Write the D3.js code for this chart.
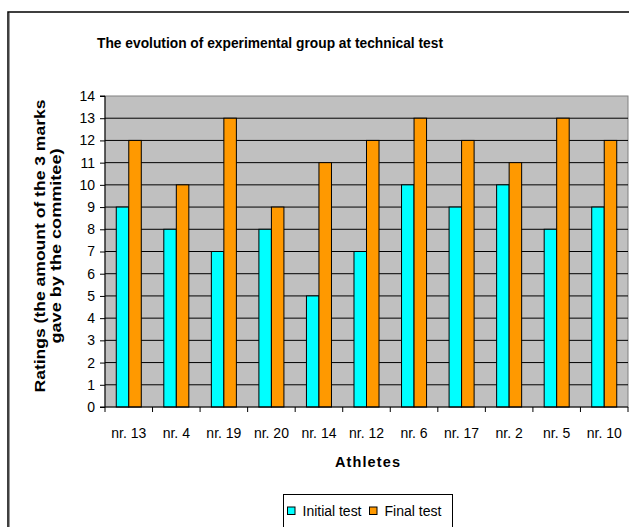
<!DOCTYPE html>
<html><head><meta charset="utf-8">
<script src="https://cdn.jsdelivr.net/npm/d3@7"></script>
<style>body{margin:0;background:#fff}svg{display:block;font-family:"Liberation Sans",Arial,sans-serif}</style>
</head><body>
<script>
const categories = ["nr. 13","nr. 4","nr. 19","nr. 20","nr. 14","nr. 12","nr. 6","nr. 17","nr. 2","nr. 5","nr. 10"];
const initialTest = [9,8,7,8,5,7,10,9,10,8,9];
const finalTest = [12,10,13,9,11,12,13,12,11,13,12];
const seriesNames = ["Initial test","Final test"];
const yTicks = d3.range(0,15);

const W=629,H=527;
const svg=d3.select("body").append("svg").attr("width",W).attr("height",H);
// outer chart border
svg.append("rect").attr("x",8).attr("y",12).attr("width",640).attr("height",540)
  .attr("fill","none").attr("stroke","#000").attr("stroke-width",1.5);
svg.append("line").attr("x1",9.5).attr("x2",9.5).attr("y1",13).attr("y2",527).attr("stroke","#999").attr("stroke-width",1);

const m={left:105,right:628,top:96,bottom:407};
const x=d3.scaleBand().domain(categories).range([m.left,m.right]);
const y=d3.scaleLinear().domain([0,14]).range([m.bottom,m.top]);

svg.append("rect").attr("x",m.left).attr("y",m.top).attr("width",m.right-m.left).attr("height",m.bottom-m.top)
  .attr("fill","#C0C0C0").attr("stroke","#808080");

// gridlines
svg.append("g").selectAll("line").data(yTicks.filter(d=>d>0&&d<14)).join("line")
  .attr("x1",m.left).attr("x2",m.right).attr("y1",d=>y(d)).attr("y2",d=>y(d))
  .attr("stroke","#000").attr("stroke-width",1);

const inner=d3.scaleBand().domain(seriesNames).range([0,x.bandwidth()]).paddingInner(0).paddingOuter(0.9);
const colors={"Initial test":"#00FFFF","Final test":"#FF9900"};
const data=categories.map((c,i)=>({c,vals:[{s:"Initial test",v:initialTest[i]},{s:"Final test",v:finalTest[i]}]}));
svg.append("g").selectAll("g").data(data).join("g").attr("transform",d=>`translate(${x(d.c)},0)`)
  .selectAll("rect").data(d=>d.vals).join("rect")
  .attr("x",d=>inner(d.s)).attr("width",inner.bandwidth())
  .attr("y",d=>y(d.v)).attr("height",d=>y(0)-y(d.v))
  .attr("fill",d=>colors[d.s]).attr("stroke","#000").attr("stroke-width",1);

// y axis
const ya=svg.append("g").attr("transform",`translate(${m.left},0)`)
  .call(d3.axisLeft(y).tickValues(yTicks).tickSize(5).tickPadding(5).tickFormat(d3.format("d")));
ya.select(".domain").attr("stroke","#000").attr("d",`M-5,${m.top}H0V${m.bottom}H-5`);
ya.selectAll("text").attr("font-size",14).attr("fill","#000").attr("font-family","Liberation Sans, Arial, sans-serif");

// x axis
const xa=svg.append("g").attr("transform",`translate(0,${m.bottom})`);
xa.append("line").attr("x1",m.left).attr("x2",m.right).attr("stroke","#000");
xa.selectAll("line.t").data(categories.concat(["end"])).join("line").attr("class","t")
  .attr("x1",(d,i)=>m.left+i*x.step()).attr("x2",(d,i)=>m.left+i*x.step()).attr("y1",0).attr("y2",5).attr("stroke","#000");
xa.selectAll("text").data(categories).join("text")
  .attr("x",d=>x(d)+x.bandwidth()/2).attr("y",31).attr("text-anchor","middle")
  .attr("font-size",14).text(d=>d);

// titles
svg.append("text").attr("x",270).attr("y",48).attr("text-anchor","middle").attr("font-weight","bold")
  .attr("font-size",15).attr("textLength",346).attr("lengthAdjust","spacingAndGlyphs")
  .text("The evolution of experimental group at technical test");
svg.append("text").attr("x",367.5).attr("y",467).attr("text-anchor","middle").attr("font-weight","bold")
  .attr("font-size",14.5).attr("textLength",65).attr("lengthAdjust","spacing").text("Athletes");
const yt=svg.append("g").attr("transform",`translate(0,246) rotate(-90)`);
yt.append("text").attr("x",0).attr("y",45).attr("text-anchor","middle").attr("font-weight","bold").attr("font-size",14)
  .attr("textLength",293).attr("lengthAdjust","spacingAndGlyphs").text("Ratings (the amount of the 3 marks");
yt.append("text").attr("x",0).attr("y",61).attr("text-anchor","middle").attr("font-weight","bold").attr("font-size",14)
  .attr("textLength",195).attr("lengthAdjust","spacingAndGlyphs").text("gave by the commitee)");

// legend
svg.append("rect").attr("x",283.5).attr("y",494.5).attr("width",169).attr("height",40).attr("fill","#fff").attr("stroke","#000");
const lg=svg.append("g").selectAll("g").data(seriesNames).join("g")
  .attr("transform",(d,i)=>`translate(${i===0?287.5:369.5},0)`);
lg.append("rect").attr("x",0).attr("y",507).attr("width",7.5).attr("height",7.5).attr("fill",d=>colors[d]).attr("stroke","#000");
lg.append("text").attr("x",15).attr("y",516).attr("font-size",14)
  .attr("textLength",(d,i)=>i===0?59:57).attr("lengthAdjust","spacingAndGlyphs").text(d=>d);
</script>
</body></html>
